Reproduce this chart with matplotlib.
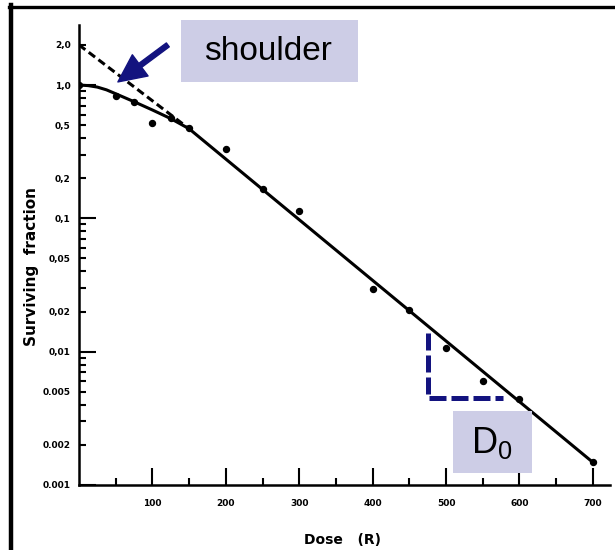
import numpy as np
import matplotlib.pyplot as plt
from matplotlib.ticker import FixedLocator, FixedFormatter
from matplotlib.patches import Rectangle
from matplotlib.lines import Line2D

plt.rcParams['mathtext.fontset'] = 'custom'
plt.rcParams['mathtext.rm'] = 'Liberation Sans'

# measured survival points
dose = [0, 50, 75, 100, 125, 150, 200, 250, 300, 400, 450, 500, 550, 600, 700]
surv = [1.0, 0.83, 0.75, 0.52, 0.57, 0.48, 0.33, 0.167, 0.114, 0.0295, 0.0207,
        0.0107, 0.006, 0.0044, 0.00148]

# fitted survival curve (shoulder, then straight exponential part)
curve_dose = [0, 12.5, 25, 37.5, 50, 75, 100, 125, 150, 700]
curve_surv = [1.0, 0.99, 0.965, 0.92, 0.86, 0.75, 0.65, 0.56, 0.47, 0.00148]

# extrapolation of the exponential part back to zero dose
extrap_dose = [0, 150]
extrap_surv = [2.0, 0.47]

# D0 construction
d0_dose = [476, 476, 578]
d0_surv = [0.0138, 0.0045, 0.0045]

x_major = [100, 200, 300, 400, 500, 600, 700]
x_minor = [50, 150, 250, 350, 450, 550, 650]
y_major = [1.0, 0.1, 0.01, 0.001]
y_major_lbl = ['1,0', '0,1', '0,01', '0.001']
y_minor_lbl = {2.0: '2,0', 0.5: '0,5', 0.2: '0,2', 0.05: '0,05', 0.02: '0,02',
               0.005: '0.005', 0.002: '0.002'}

navy = '#13137f'
lav = '#cdcde6'

fig = plt.figure(figsize=(6.15, 5.5), dpi=100)
ax = fig.add_axes([79/615, 65/550, 531/615, 460/550])
ax.set_yscale('log')
ax.set_xlim(0, 723.4)
ax.set_ylim(0.001, 2.82)

for s in ['top', 'right']:
    ax.spines[s].set_visible(False)
for s in ['left', 'bottom']:
    ax.spines[s].set_linewidth(1.8)

ax.plot(curve_dose, curve_surv, color='black', lw=2.2, solid_capstyle='round',
        solid_joinstyle='round', zorder=3)
ax.plot(extrap_dose, extrap_surv, color='black', lw=2.2, linestyle=(0, (2.6, 1.4)), zorder=3)
ax.plot(dose, surv, 'o', color='black', ms=4.3, zorder=4)
ax.plot(d0_dose, d0_surv, color=navy, lw=3.6, linestyle=(0, (3.4, 1.0)), zorder=3)

# ticks
ax.xaxis.set_major_locator(FixedLocator(x_major))
ax.xaxis.set_major_formatter(FixedFormatter([str(v) for v in x_major]))
ax.xaxis.set_minor_locator(FixedLocator(x_minor))
ax.yaxis.set_major_locator(FixedLocator(y_major))
ax.yaxis.set_major_formatter(FixedFormatter(y_major_lbl))
minors = [m * d for d in [0.001, 0.01, 0.1, 1.0] for m in range(2, 10) if m * d < 2.82]
ax.yaxis.set_minor_locator(FixedLocator(minors))
ax.yaxis.set_minor_formatter(FixedFormatter(
    [y_minor_lbl.get(round(v, 6), '') for v in minors]))

ax.tick_params(which='major', direction='in', length=12, width=1.5)
ax.tick_params(which='minor', direction='in', length=5, width=1.5)
ax.tick_params(axis='x', which='both', pad=10)
ax.tick_params(axis='y', which='both', pad=6)
for lbl in ax.get_xticklabels() + ax.get_yticklabels() + \
        ax.get_yticklabels(minor=True):
    lbl.set_fontsize(6.5)
    lbl.set_fontweight('bold')

fig.text(31.5/615, 1 - 266/550, 'Surviving  fraction', rotation=90,
         ha='center', va='center', fontsize=11, fontweight='bold')
fig.text(343/615, 1 - 540/550, 'Dose   (R)', ha='center', va='center',
         fontsize=10, fontweight='bold')

# arrow pointing at the shoulder
ax.annotate('', xy=(53, 1.055), xytext=(121, 2.0),
            arrowprops=dict(width=3.5, headwidth=19, headlength=20,
                            color=navy, shrink=0))

# label boxes
fig.add_artist(Rectangle((181/615, 1 - 82/550), 177/615, 62/550,
                         transform=fig.transFigure, facecolor=lav,
                         edgecolor='none', zorder=5))
fig.text(268/615, 1 - 51/550, 'shoulder', ha='center', va='center',
         fontsize=24, family='Liberation Sans', zorder=6)
fig.add_artist(Rectangle((452.7/615, 1 - 473/550), 79/615, 62/550,
                         transform=fig.transFigure, facecolor=lav,
                         edgecolor='none', zorder=5))
fig.text(492/615, 1 - 443/550, r'$\mathrm{D_0}$', ha='center', va='center',
         fontsize=26, zorder=6)

# slide frame
fig.add_artist(Line2D([10.5/615, 10.5/615], [0, 1 - 5/550],
                      transform=fig.transFigure, color='black', lw=3.2))
fig.add_artist(Line2D([8.5/615, 1], [1 - 6.7/550, 1 - 6.7/550],
                      transform=fig.transFigure, color='black', lw=2.4))

fig.savefig('out.png', dpi=100)
